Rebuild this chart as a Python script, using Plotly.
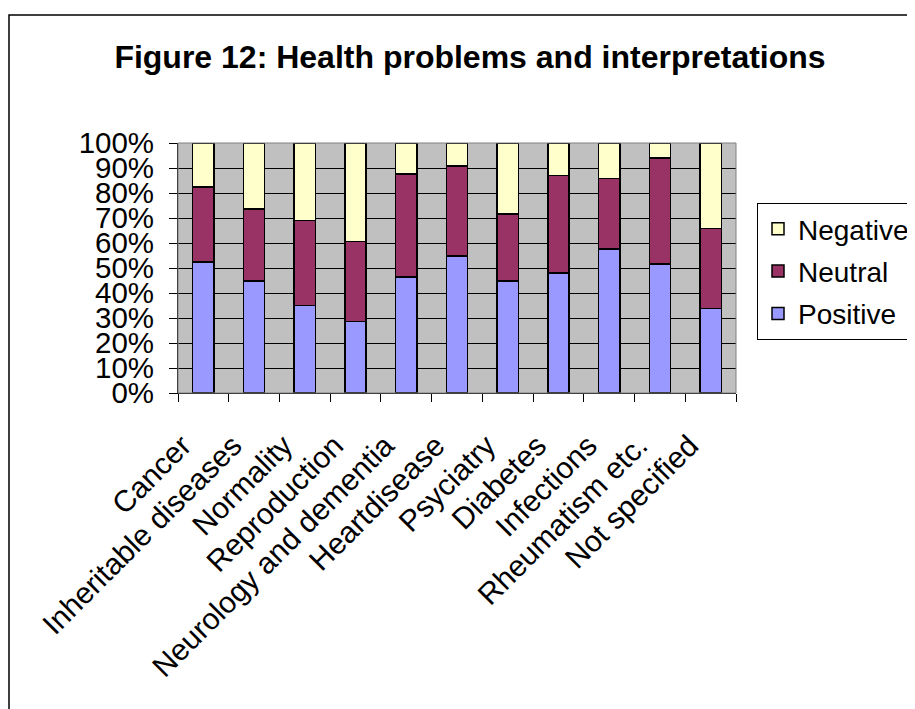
import plotly.graph_objects as go

categories = ["Cancer", "Inheritable diseases", "Normality", "Reproduction",
              "Neurology and dementia", "Heartdisease", "Psyciatry", "Diabetes",
              "Infections", "Rheumatism etc.", "Not specified"]
positive = [52.4, 44.8, 35.0, 28.6, 46.5, 54.9, 44.8, 48.0, 57.6, 51.7, 33.8]
neutral = [30.1, 28.9, 34.1, 32.1, 41.2, 36.0, 26.9, 39.0, 28.2, 42.4, 32.0]
negative = [17.5, 26.3, 30.9, 39.3, 12.3, 9.1, 28.3, 13.0, 14.2, 5.9, 34.2]
ytick_vals = [0, 10, 20, 30, 40, 50, 60, 70, 80, 90, 100]
ytick_text = [f"{v}%" for v in ytick_vals]

FONT = "Liberation Sans, Arial, sans-serif"
OFF = 8  # default page body margin
W, H = 915 - OFF, 709 - OFF
L, T = 178 - OFF, 143 - OFF
pw, ph = 558, 250
R, B = W - L - pw, H - T - ph

fig = go.Figure()
series = [("Positive", positive, "#9999FF", 3),
          ("Neutral", neutral, "#993366", 2),
          ("Negative", negative, "#FFFFCC", 1)]
for name, vals, col, rank in series:
    fig.add_trace(go.Bar(
        x=categories, y=vals, name=name, legendgroup=name, legendrank=rank,
        marker=dict(color=col, line=dict(color="black", width=1.5)),
    ))

def px2x(px):
    return (px - OFF - L) / pw

def py2y(py):
    return (H - B - (py - OFF)) / ph

fig.update_layout(
    width=W, height=H,
    margin=dict(l=L, r=R, t=T, b=B, autoexpand=False),
    barmode="stack", bargap=0.58,
    paper_bgcolor="white", plot_bgcolor="#C0C0C0",
    font=dict(family=FONT, size=28, color="black"),
    title=dict(text="<b>Figure 12: Health problems and interpretations</b>",
               x=(470 - OFF) / W, xanchor="center",
               y=1 - (57 - OFF) / H, yanchor="middle",
               font=dict(family=FONT, size=32, color="black")),
    showlegend=True,
    legend=dict(x=px2x(757), xanchor="left", y=py2y(203), yanchor="top",
                traceorder="grouped", tracegroupgap=3,
                bordercolor="black", borderwidth=1, bgcolor="white",
                font=dict(family=FONT, size=28, color="black"),
                itemclick=False),
    xaxis=dict(type="category", showgrid=False, tickangle=-45,
               ticks="outside", ticklen=8, tickcolor="black", tickwidth=1,
               tickson="boundaries", showline=True, linecolor="black",
               linewidth=1, ticklabelstandoff=22, ticklabelshift=-21,
               automargin=False,
               tickfont=dict(family=FONT, size=30, color="black")),
    yaxis=dict(range=[0, 100], tickvals=ytick_vals, ticktext=ytick_text,
               showgrid=True, gridcolor="black", gridwidth=1,
               ticks="outside", ticklen=8, tickcolor="black", tickwidth=1,
               showline=True, linecolor="black", linewidth=1,
               zeroline=False, ticklabelstandoff=9, automargin=False,
               tickfont=dict(family=FONT, size=29.5, color="black")),
    shapes=[
        dict(type="rect", xref="paper", yref="paper",
             x0=0, x1=1, y0=0, y1=1, line=dict(color="#808080", width=1),
             layer="above"),
        dict(type="rect", xref="paper", yref="paper",
             x0=px2x(9), x1=px2x(940), y0=py2y(740), y1=py2y(15),
             line=dict(color="black", width=1.5), layer="above"),
    ],
)

fig.write_html("out.html")
